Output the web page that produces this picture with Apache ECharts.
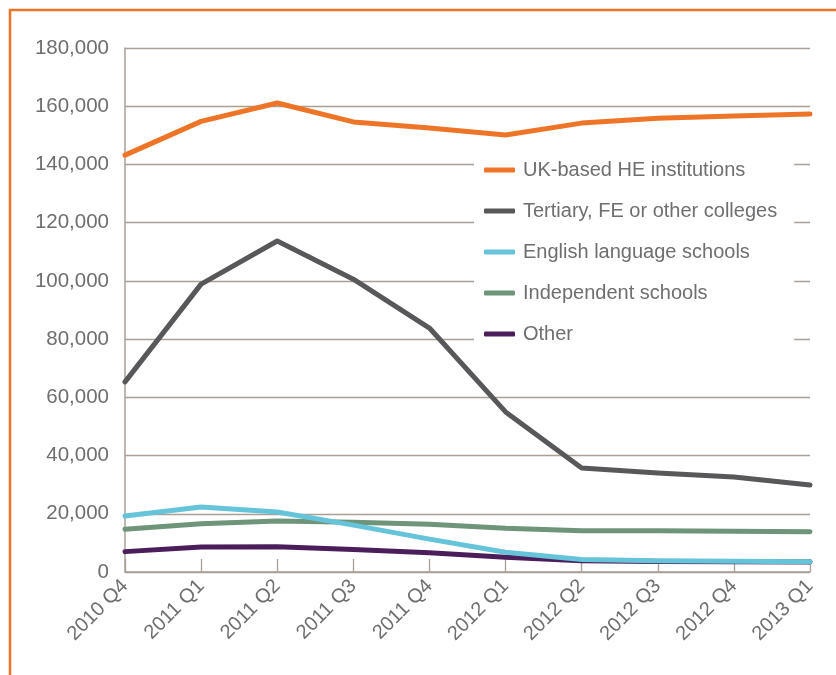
<!DOCTYPE html>
<html>
<head>
<meta charset="utf-8">
<script src="https://cdn.jsdelivr.net/npm/echarts@6/dist/echarts.min.js"></script>
<style>
html,body{margin:0;padding:0;background:#fff;}
#chart{width:836px;height:675px;}
</style>
</head>
<body>
<div id="chart"></div>
<script>
var categories = ['2010 Q4','2011 Q1','2011 Q2','2011 Q3','2011 Q4','2012 Q1','2012 Q2','2012 Q3','2012 Q4','2013 Q1'];
var seriesNames = ['UK-based HE institutions','Tertiary, FE or other colleges','English language schools','Independent schools','Other'];
var ukHE = [143200, 154800, 161100, 154600, 152500, 150100, 154200, 155900, 156600, 157300];
var tertiary = [65300, 98900, 113700, 100600, 83800, 55000, 35700, 34000, 32600, 29900];
var english = [19200, 22300, 20600, 16100, 11300, 6800, 4300, 3900, 3700, 3500];
var independent = [14700, 16600, 17500, 17100, 16400, 15000, 14200, 14200, 14000, 13800];
var other = [7000, 8600, 8700, 7700, 6600, 5100, 3900, 3600, 3500, 3400];
var yTicks = [0, 20000, 40000, 60000, 80000, 100000, 120000, 140000, 160000, 180000];

var colors = ['#EE7527', '#58585A', '#66C4DA', '#6E9579', '#4B1E5B'];
var gridColor = '#A99F95';
var textColor = '#6D6E70';
var font = 'Liberation Sans, Arial, sans-serif';

var dataSets = [ukHE, tertiary, english, independent, other];
var order = [4, 3, 2, 1, 0];
var series = order.map(function(i){
  return {
    name: seriesNames[i],
    type: 'line',
    data: dataSets[i],
    symbol: 'none',
    smooth: false,
    z: 3 + (i === 2 ? 2 : 0),
    lineStyle: {color: colors[i], width: 5, cap: 'round', join: 'round'},
    itemStyle: {color: colors[i]}
  };
});

var chart = echarts.init(document.getElementById('chart'), null, {renderer: 'canvas'});
chart.setOption({
  animation: false,
  backgroundColor: '#fff',
  textStyle: {fontFamily: font},
  graphic: [{
    type: 'rect',
    shape: {x: 10, y: 10, width: 900, height: 800},
    style: {fill: 'none', stroke: '#EE7527', lineWidth: 2.5},
    z: 100
  }],
  grid: {left: 125, right: 26, top: 48, bottom: 103, containLabel: false},
  legend: {
    data: seriesNames,
    orient: 'vertical',
    left: 474,
    top: 150,
    padding: [9, 17, 9, 10],
    backgroundColor: '#fff',
    itemWidth: 31,
    itemHeight: 5,
    itemGap: 19,
    icon: 'roundRect',
    z: 10,
    textStyle: {color: textColor, fontSize: 20, fontFamily: font, lineHeight: 22, padding: [0, 0, 0, 3]}
  },
  xAxis: {
    type: 'category',
    data: categories,
    boundaryGap: false,
    axisLine: {show: true, lineStyle: {color: gridColor, width: 1.5}},
    axisTick: {show: true, inside: true, length: 13, lineStyle: {color: gridColor, width: 1.3}},
    splitLine: {show: false},
    axisLabel: {rotate: 45, color: textColor, fontSize: 20, fontFamily: font, margin: 11, interval: 0}
  },
  yAxis: {
    type: 'value',
    min: yTicks[0],
    max: yTicks[yTicks.length - 1],
    interval: yTicks[1] - yTicks[0],
    axisLine: {show: true, lineStyle: {color: gridColor, width: 1.5}},
    axisTick: {show: false},
    splitLine: {show: true, lineStyle: {color: gridColor, width: 1.3}},
    axisLabel: {
      color: textColor, fontSize: 20.5, fontFamily: font, margin: 16,
      formatter: function(v){ return v.toLocaleString('en-US'); }
    }
  },
  series: series
});
</script>
</body>
</html>
